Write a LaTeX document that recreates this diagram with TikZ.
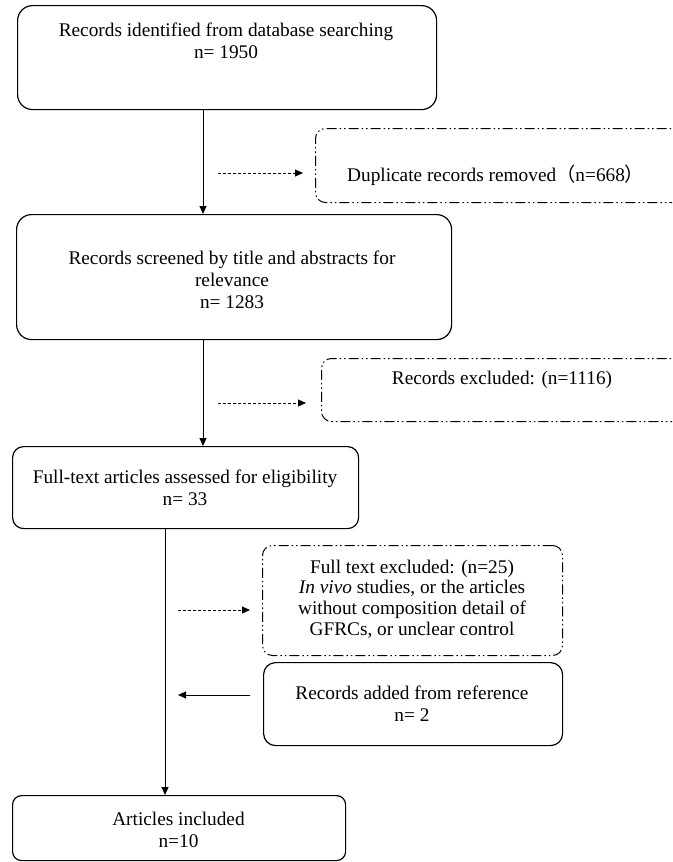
\documentclass[tikz,border=0pt]{standalone}
\usepackage{fontspec}
\setmainfont{Liberation Serif}
\newfontfamily\cjkfont{Noto Sans CJK SC}
\usetikzlibrary{arrows.meta}
\begin{document}
\begin{tikzpicture}[x=1pt,y=-1pt,
  solidbox/.style={draw, line width=1.2pt, rounded corners=#1, inner sep=0pt, anchor=north west},
  dashbox/.style={draw, line width=1pt, rounded corners=10pt, inner sep=0pt, anchor=north west,
    dash pattern=on 10pt off 3pt on 1.5pt off 3pt on 1.5pt off 3pt},
  txt/.style={align=center, inner sep=0pt, font=\fontsize{19.3}{21.8}\selectfont},
  arr/.style={line width=1pt, -{Triangle[length=8pt,width=7pt]}},
  dotarr/.style={line width=1pt, dash pattern=on 3pt off 2pt, -{Triangle[length=8pt,width=7pt]}}]
\clip (0,0) rectangle (672,862);
\fill[white] (0,0) rectangle (672,862);

% boxes
\node[solidbox=15pt, minimum width=419pt, minimum height=104pt] (b1) at (17,5) {};
\node[solidbox=15pt, minimum width=435pt, minimum height=125pt] (b2) at (16,214) {};
\node[solidbox=11pt, minimum width=346pt, minimum height=82pt] (b3) at (12,446) {};
\node[solidbox=9pt, minimum width=333pt, minimum height=65pt] (b4) at (12,795) {};
\node[solidbox=12pt, minimum width=299pt, minimum height=83pt] (badd) at (263,662) {};
\node[dashbox, minimum width=405pt, minimum height=74pt] (dup) at (315,128) {};
\node[dashbox, minimum width=399pt, minimum height=63pt] (exc) at (321,358) {};
\node[dashbox, minimum width=300pt, minimum height=110pt] (ftx) at (262,545) {};

% texts
\node[txt] (t1) at (226,41) {Records identified from database searching\\n= 1950};
\node[txt] (t2) at (232,280) {Records screened by title and abstracts for\\relevance\\n= 1283};
\node[txt] (t3) at (185,488) {Full-text articles assessed for eligibility\\n= 33};
\node[txt] (t4) at (178.5,830) {Articles included\\n=10};
\node[txt, anchor=west] (tdup) at (347,175) {Duplicate records removed{\cjkfont （}n=668{\cjkfont ）}};
\node[txt] (texc) at (502,380) {Records excluded: (n=1116)};
\node[txt, font=\fontsize{19.3}{20.8}\selectfont] (tftx) at (412,599) {Full text excluded: (n=25)\\\textit{In vivo} studies, or the articles\\without composition detail of\\GFRCs, or unclear control};
\node[txt] (tadd) at (412,703.5) {Records added from reference\\n= 2};

% main flow
\coordinate (xa) at (203,0);
\coordinate (xb) at (165,0);
\draw[arr] (b1.south -| xa) -- (b2.north -| xa);
\draw[arr] (b2.south -| xa) -- (b3.north -| xa);
\draw[arr] (b3.south -| xb) -- (b4.north -| xb);

% side arrows
\coordinate (d1) at (218,173);
\coordinate (d2) at (218,403);
\coordinate (d3) at (178,610);
\coordinate (a1) at (178,695);
\draw[dotarr] (d1) -- ([xshift=-12pt]dup.west |- d1);
\draw[dotarr] (d2) -- ([xshift=-15pt]exc.west |- d2);
\draw[dotarr] (d3) -- ([xshift=-12pt]ftx.west |- d3);
\draw[arr] ([xshift=-13pt]badd.west |- a1) -- (a1);
\end{tikzpicture}
\end{document}
